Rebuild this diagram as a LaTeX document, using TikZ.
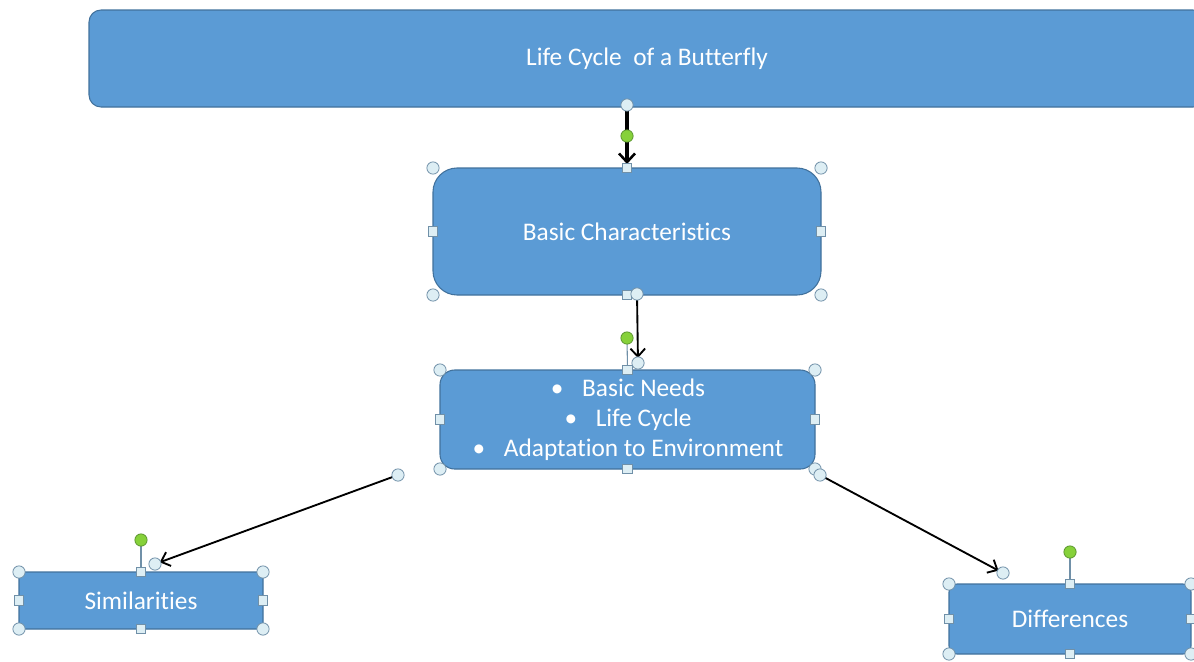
\documentclass[tikz,border=0pt]{standalone}
\usepackage{fontspec}
\setmainfont{Carlito}[Ligatures=NoCommon]
\usetikzlibrary{arrows.meta}
\definecolor{boxfill}{HTML}{5B9BD5}
\definecolor{boxline}{HTML}{41719C}
\definecolor{hfill}{HTML}{DDEEF4}
\definecolor{hline}{HTML}{7090A8}
\definecolor{gfill}{HTML}{86D13A}
\definecolor{gline}{HTML}{5C9630}

\tikzset{
  boxfont/.style={font=\fontsize{19}{22.5}\selectfont},
  box/.style={draw=boxline, line width=0.8pt, fill=boxfill, text=white,
    boxfont, inner sep=0pt, outer sep=0pt, align=center},
  conn/.style={draw=black, line width=1.4pt, shorten >=3.8pt,
    -{Straight Barb[length=6pt,width=11pt,line width=1.4pt]}},
  thickconn/.style={draw=black, line width=2.6pt,
    -{Straight Barb[length=6.5pt,width=12pt,line width=1.9pt]}},
  hcirc/.style={draw=hline, fill=hfill, line width=0.6pt},
  hsq/.style={draw=hline, fill=hfill, line width=0.6pt},
  hgreen/.style={draw=gline, fill=gfill, line width=0.6pt},
  hstem/.style={draw=hline, line width=0.8pt},
}

% selection handles
\newcommand\hcircle[1]{\draw[hcirc] (#1) circle[radius=4.6pt];}
\newcommand\hsquare[1]{\draw[hsq,shift={(#1)}] (-3.6pt,-3.6pt) rectangle (3.6pt,3.6pt);}
\newcommand\hstemline[2]{\draw[hstem] (#1) -- (#2);}
\newcommand\hgreendot[1]{\draw[hgreen] (#1) circle[radius=4.6pt];}
\newcommand\handles[1]{%
  \hcircle{#1.north west}\hcircle{#1.north east}%
  \hcircle{#1.south west}\hcircle{#1.south east}%
  \hsquare{#1.north}\hsquare{#1.south}\hsquare{#1.west}\hsquare{#1.east}}

\begin{document}
\begin{tikzpicture}[x=0.75pt, y=-0.75pt]
  \useasboundingbox (0,0) rectangle (1194,661);
  \clip (0,0) rectangle (1194,661);

  % boxes
  \node[box, rounded corners=9pt, minimum width=837pt, minimum height=72.75pt]
    (title) at (647,58.5) {Life Cycle\ \ of a Butterfly};
  \node[box, rounded corners=18pt, minimum width=291pt, minimum height=95.25pt]
    (basic) at (627,231.5) {Basic Characteristics};
  \node[box, rounded corners=11pt, minimum width=281.25pt, minimum height=74.25pt]
    (list) at (627.5,419.5) {};
  \node[boxfont, text=white, align=center, inner sep=0pt]
    (listtext) at (628,419.5)
    {\textbullet\hspace{14pt}Basic Needs\\
     \textbullet\hspace{14pt}Life Cycle\\
     \textbullet\hspace{14pt}Adaptation to Environment};
  \node[box, rounded corners=2pt, minimum width=183pt, minimum height=42.75pt]
    (sim) at (141,600.5) {Similarities};
  \node[box, rounded corners=6pt, minimum width=181.5pt, minimum height=52.5pt]
    (diff) at (1070,619) {Differences};

  % connector end points and rotation handle positions
  \coordinate (c1s) at (627,105);
  \coordinate (c1e) at (627,164);
  \coordinate (c2s) at (637,294);
  \coordinate (c2e) at (638,363);
  \coordinate (c3s) at (398,475);
  \coordinate (c3e) at (155,564);
  \coordinate (c4s) at (820,475);
  \coordinate (c4e) at (1003,573);
  \coordinate (rbasic) at (627,136);
  \coordinate (rlist) at (627,338);
  \coordinate (rsim) at (141,540);
  \coordinate (rdiff) at (1070,552);

  % rotation handle stems
  \hstemline{rbasic}{basic.north}
  \hstemline{rlist}{list.north}
  \hstemline{rsim}{sim.north}
  \hstemline{rdiff}{diff.north}

  % connectors
  \draw[thickconn] (c1s) -- (c1e);
  \draw[conn] (c2s) -- (c2e);
  \draw[conn] (c3s) -- (c3e);
  \draw[conn] (c4s) -- (c4e);

  % rotation handles
  \hgreendot{rbasic}\hgreendot{rlist}\hgreendot{rsim}\hgreendot{rdiff}

  % resize handles
  \handles{basic}
  \handles{list}
  \handles{sim}
  \handles{diff}

  % connector end handles
  \hcircle{c1s}
  \hcircle{c2s}\hcircle{c2e}
  \hcircle{c3s}\hcircle{c3e}
  \hcircle{c4s}\hcircle{c4e}
\end{tikzpicture}
\end{document}
